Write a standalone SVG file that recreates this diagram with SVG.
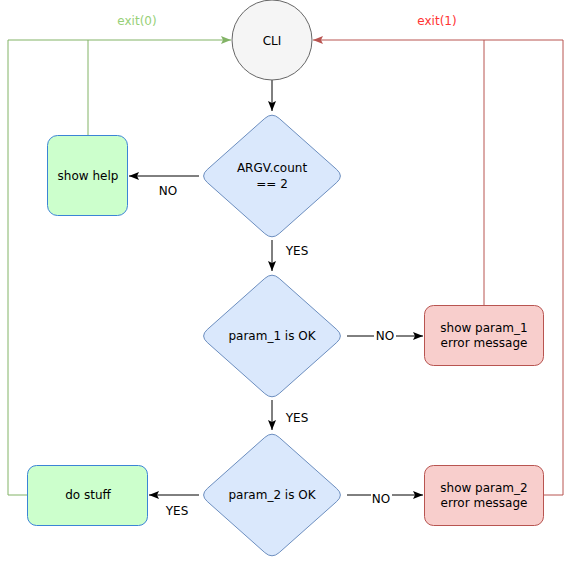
<svg xmlns="http://www.w3.org/2000/svg" width="572" height="561" viewBox="0 0 572 561">
<style>
text{font-family:"DejaVu Sans","Verdana",sans-serif;font-size:12px;fill:#000;text-anchor:middle;dominant-baseline:central}
.dia{fill:#dae8fc;stroke:#6c8ebf;stroke-width:1}
.ok{fill:#ccffcc;stroke:#3b84d6;stroke-width:1}
.err{fill:#f8cecc;stroke:#b85450;stroke-width:1}
.ln{fill:none;stroke:#000;stroke-width:1;marker-end:url(#ab)}
.g{fill:none;stroke:#82b366;stroke-width:1}
.r{fill:none;stroke:#b85450;stroke-width:1}
</style>
<defs>
<marker id="ab" viewBox="0 0 10 10" refX="10" refY="5" markerWidth="10" markerHeight="10" markerUnits="userSpaceOnUse" orient="auto"><path d="M0,1 L10,5 L0,9 L2,5 Z" fill="#000"/></marker>
<marker id="ag" viewBox="0 0 10 10" refX="10" refY="5" markerWidth="10" markerHeight="10" markerUnits="userSpaceOnUse" orient="auto"><path d="M0,1 L10,5 L0,9 L2,5 Z" fill="#82b366"/></marker>
<marker id="ar" viewBox="0 0 10 10" refX="10" refY="5" markerWidth="10" markerHeight="10" markerUnits="userSpaceOnUse" orient="auto"><path d="M0,1 L10,5 L0,9 L2,5 Z" fill="#b85450"/></marker>
<path id="dshape" d="M-7.2,-57.6 Q0,-64 7.2,-57.6 L64.8,-6.4 Q72,0 64.8,6.4 L7.2,57.6 Q0,64 -7.2,57.6 L-64.8,6.4 Q-72,0 -64.8,-6.4 Z"/>
</defs>

<g id="connectors">
<path class="g" d="M88,135 V40 M27,495 H8 V40 H231" marker-end="url(#ag)"/>
<path class="r" d="M484,305 V40 M544,495 H563 V40 H313" marker-end="url(#ar)"/>
<path class="ln" d="M272,80 V111"/>
<path class="ln" d="M199,176 H129"/>
<path class="ln" d="M272,240 V271"/>
<path class="ln" d="M347,336 H423"/>
<path class="ln" d="M272,400 V430"/>
<path class="ln" d="M199,495 H149"/>
<path class="ln" d="M347,495 H423"/>
<text x="137" y="21" style="fill:#97d077">exit(0)</text>
<text x="437" y="21" style="fill:#ff3333">exit(1)</text>
<text x="168" y="191">NO</text>
<text x="297" y="251">YES</text>
<rect x="374" y="329" width="22" height="14" fill="#fff"/>
<text x="385" y="336">NO</text>
<text x="297" y="418">YES</text>
<text x="177" y="511">YES</text>
<rect x="371" y="493" width="21" height="13" fill="#fff"/>
<text x="381" y="499">NO</text>
</g>

<g id="cli">
<circle cx="272" cy="40" r="40" fill="#f5f5f5" stroke="#666666"/>
<text x="272" y="41">CLI</text>
</g>

<g id="argv">
<use href="#dshape" class="dia" transform="translate(272,176)"/>
<text x="272" y="168">ARGV.count</text>
<text x="272" y="184">== 2</text>
</g>

<g id="help">
<rect class="ok" x="47.5" y="135.5" width="80" height="80" rx="10"/>
<text x="88" y="176">show help</text>
</g>

<g id="param1">
<use href="#dshape" class="dia" transform="translate(272,336)"/>
<text x="272" y="336">param_1 is OK</text>
</g>

<g id="err1">
<rect class="err" x="424.5" y="305.5" width="119" height="60" rx="9"/>
<text x="484" y="328">show param_1</text>
<text x="484" y="343">error message</text>
</g>

<g id="param2">
<use href="#dshape" class="dia" transform="translate(272,495)"/>
<text x="272" y="495">param_2 is OK</text>
</g>

<g id="dostuff">
<rect class="ok" x="27.5" y="465.5" width="120" height="60" rx="9"/>
<text x="88" y="495">do stuff</text>
</g>

<g id="err2">
<rect class="err" x="424.5" y="465.5" width="119" height="60" rx="9"/>
<text x="484" y="488">show param_2</text>
<text x="484" y="503">error message</text>
</g>
</svg>
